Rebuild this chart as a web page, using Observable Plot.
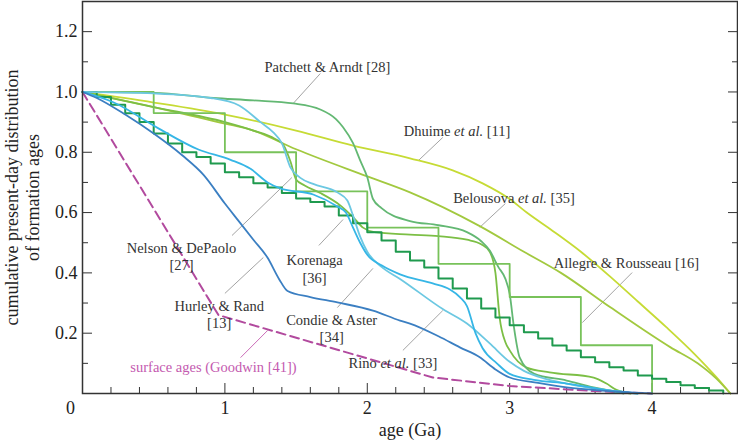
<!DOCTYPE html>
<html><head><meta charset="utf-8">
<script src="https://cdn.jsdelivr.net/npm/d3@7"></script>
<script src="https://cdn.jsdelivr.net/npm/@observablehq/plot@0.6"></script>
<style>body{margin:0;background:#fff}</style>
</head><body><div id="chart"></div>
<script>
// ---- data: [age (Ga), cumulative fraction] ----
const dhuime = [[0,1],[0.5,0.965],[1.0,0.925],[1.5,0.872],[1.9,0.822],[2.3,0.78],[2.6,0.74],[2.81,0.697],[3.0,0.645],[3.12,0.6],[3.3,0.54],[3.5,0.47],[3.7,0.39],[3.9,0.305],[4.1,0.22],[4.3,0.13],[4.45,0.055],[4.55,0]];
const belousova = [[0,1],[0.5,0.95],[1.0,0.895],[1.18,0.875],[1.5,0.81],[2.0,0.72],[2.3,0.667],[2.79,0.555],[3.1,0.47],[3.36,0.40],[3.71,0.285],[4.13,0.153],[4.32,0.10],[4.45,0.05],[4.55,0]];
const patchett = [[0,1],[0.5,0.997],[0.92,0.98],[1.2,0.972],[1.48,0.962],[1.67,0.942],[1.78,0.91],[1.83,0.883],[1.9,0.83],[1.95,0.773],[2.0,0.717],[2.04,0.645],[2.1,0.615],[2.3,0.572],[2.5,0.558],[2.7,0.535],[2.8,0.505],[2.86,0.474],[2.92,0.42],[2.97,0.38],[3.0,0.33],[3.03,0.22],[3.07,0.12],[3.17,0.066],[3.4,0.043],[3.59,0.02],[3.7,0.01],[3.8,0]];
const greenB = [[0,1],[0.5,0.95],[1.0,0.9],[1.2,0.872],[1.35,0.845],[1.41,0.825],[1.46,0.77],[1.5,0.71],[1.56,0.69],[1.67,0.665],[1.81,0.624],[1.9,0.585],[1.97,0.55],[2.05,0.535],[2.3,0.527],[2.5,0.522],[2.7,0.51],[2.8,0.495],[2.86,0.47],[2.9,0.4],[2.93,0.25],[2.97,0.17],[3.0,0.143],[3.12,0.086],[3.28,0.07],[3.59,0.053],[3.68,0.033],[3.75,0.012],[3.85,0]];
const allegre = [[0,1],[0.5,0.93],[1.0,0.8],[1.5,0.67],[2.0,0.55],[2.5,0.43],[3.0,0.32],[3.5,0.16],[4.0,0]];
const stairAges = [0,0.1,0.2,0.3,0.4,0.5,0.6,0.7,0.8,0.9,1.0,1.1,1.2,1.3,1.4,1.5,1.6,1.7,1.8,1.9,2.0,2.1,2.2,2.3,2.4,2.5,2.6,2.7,2.8,2.9,3.0,3.1,3.2,3.3,3.4,3.5,3.6,3.7,3.8,3.9,4.0,4.1,4.2,4.3,4.4,4.5];
const stairVals = [1.0,0.983,0.958,0.929,0.90,0.862,0.829,0.80,0.784,0.763,0.734,0.717,0.697,0.683,0.665,0.647,0.635,0.62,0.59,0.565,0.535,0.507,0.47,0.441,0.418,0.381,0.348,0.315,0.282,0.252,0.226,0.203,0.182,0.159,0.143,0.12,0.104,0.087,0.076,0.06,0.049,0.038,0.027,0.018,0.01,0];
const cyanLight = [[0,1],[0.5,0.995],[0.9,0.98],[1.1,0.955],[1.25,0.9],[1.34,0.866],[1.4,0.83],[1.46,0.75],[1.53,0.715],[1.62,0.695],[1.79,0.667],[1.86,0.64],[1.9,0.59],[1.95,0.52],[2.0,0.47],[2.1,0.42],[2.23,0.38],[2.53,0.28],[2.7,0.232],[2.86,0.166],[3.0,0.105],[3.1,0.075],[3.24,0.05],[3.4,0.033],[3.7,0.01],[3.9,0]];
const cyanBright = [[0,1],[0.22,0.965],[0.53,0.88],[0.81,0.81],[1.04,0.775],[1.18,0.745],[1.3,0.7],[1.39,0.68],[1.62,0.66],[1.79,0.62],[1.85,0.6],[1.9,0.55],[1.95,0.5],[2.0,0.46],[2.1,0.425],[2.23,0.395],[2.46,0.365],[2.58,0.345],[2.65,0.32],[2.7,0.29],[2.76,0.2],[2.81,0.15],[2.91,0.1],[3.0,0.065],[3.17,0.045],[3.4,0.033],[3.7,0.01],[3.9,0]];
const blue = [[0,1],[0.1,0.98],[0.3,0.925],[0.5,0.862],[0.7,0.79],[0.85,0.725],[1.0,0.63],[1.1,0.57],[1.2,0.51],[1.3,0.45],[1.38,0.38],[1.44,0.34],[1.6,0.32],[1.79,0.302],[2.04,0.275],[2.23,0.242],[2.3,0.232],[2.5,0.19],[2.65,0.153],[2.79,0.12],[2.9,0.08],[3.0,0.053],[3.2,0.035],[3.4,0.02],[3.7,0.008],[4.0,0]];
const surface = [[0,1],[0.955,0.26],[2.46,0.053],[3.0,0.025],[3.6,0.008],[4.0,0]];

// ---- annotations ----
const labels = [
  {t:"Patchett & Arndt [28]", x:1.72, y:1.085},
  {t:"Dhuime et al. [11]", x:2.63, y:0.872},
  {t:"Belousova et al. [35]", x:3.03, y:0.65},
  {t:"Allegre & Rousseau [16]", x:3.82, y:0.434},
  {t:"Nelson & DePaolo\n[27]", x:0.695, y:0.456},
  {t:"Korenaga\n[36]", x:1.63, y:0.415},
  {t:"Hurley & Rand\n[13]", x:0.96, y:0.264},
  {t:"Condie & Aster\n[34]", x:1.75, y:0.217},
  {t:"Rino et al. [33]", x:2.18, y:0.103}
];
const surfaceLabel = [{t:"surface ages (Goodwin [41])", x:0.92, y:0.086}];
const pointers = [
  [1.67,1.061,1.48,0.962],[2.53,0.849,2.36,0.773],[2.97,0.63,2.79,0.551],[3.86,0.401,3.51,0.235],
  [1.05,0.524,1.47,0.716],[1.66,0.491,1.83,0.577],[1.0,0.332,1.27,0.451],[1.79,0.285,2.04,0.415],[2.25,0.143,2.53,0.275]
];
const surfacePointer = [[1.11,0.119,1.30,0.209]];

const yMajor = [0.2,0.4,0.6,0.8,1.0,1.2];
const yMinor = [0.1,0.3,0.5,0.7,0.9,1.1];
const xMajor = [1,2,3,4];
const xMinor = [0.2,0.4,0.6,0.8,1.2,1.4,1.6,1.8,2.2,2.4,2.6,2.8,3.2,3.4,3.6,3.8,4.2,4.4];

const toRows = a => a.map(([x,y]) => ({x,y}));
const stairRows = stairAges.map((x,i) => ({x, y: stairVals[i]}));

const smooth = (d, stroke) => Plot.line(toRows(d), {x:"x", y:"y", stroke, strokeWidth:1.8, curve:"monotone-x"});
const axisCol = "#333";

const chart = Plot.plot({
  width: 738, height: 444,
  marginLeft: 82, marginRight: 1, marginTop: 1, marginBottom: 51,
  style: {fontFamily: "'Liberation Serif', 'DejaVu Serif', serif", background: "white", color: "#222"},
  x: {domain: [0, 4.6]},
  y: {domain: [0, 1.3]},
  marks: [
    // tick marks (inward)
    Plot.axisY({ticks: yMajor, tickSize: -10, tickFormat: () => "", stroke: axisCol, label: null}),
    Plot.axisY({ticks: yMinor, tickSize: -6, tickFormat: () => "", stroke: axisCol, label: null}),
    Plot.axisY({anchor: "right", ticks: yMajor, tickSize: -10, tickFormat: () => "", stroke: axisCol, label: null}),
    Plot.axisY({anchor: "right", ticks: yMinor, tickSize: -6, tickFormat: () => "", stroke: axisCol, label: null}),
    Plot.axisX({ticks: xMajor, tickSize: -10, tickFormat: () => "", stroke: axisCol, label: null}),
    Plot.axisX({ticks: xMinor, tickSize: -6, tickFormat: () => "", stroke: axisCol, label: null}),
    // tick labels
    Plot.axisY({ticks: yMajor, tickSize: 0, tickPadding: 5, tickFormat: ".1f", fontSize: 18, label: null}),
    Plot.axisX({ticks: xMajor, tickSize: 0, tickPadding: 8, tickFormat: d => String(d), fontSize: 18, label: null}),
    Plot.text([0], {x: 0, y: 0, text: () => "0", dx: -12, dy: 8, lineAnchor: "top", fontSize: 18}),
    // axis titles
    Plot.text(["age (Ga)"], {frameAnchor: "bottom", dy: 30, lineAnchor: "top", fontSize: 18}),
    Plot.text(["cumulative present-day distribution"], {frameAnchor: "left", textAnchor: "middle", rotate: -90, dx: -70, fontSize: 18}),
    Plot.text(["of formation ages"], {frameAnchor: "left", textAnchor: "middle", rotate: -90, dx: -49, fontSize: 18}),
    // pointers
    Plot.link(pointers, {x1: d=>d[0], y1: d=>d[1], x2: d=>d[2], y2: d=>d[3], stroke: "#999", strokeWidth: 0.9}),
    Plot.link(surfacePointer, {x1: d=>d[0], y1: d=>d[1], x2: d=>d[2], y2: d=>d[3], stroke: "#c45aaf", strokeWidth: 0.9}),
    // curves
    Plot.line(toRows(surface), {x:"x", y:"y", stroke:"#b24a9e", strokeWidth:2, strokeDasharray:"9,5"}),
    smooth(dhuime, "#c6db35"),
    smooth(belousova, "#a2c93f"),
    smooth(greenB, "#7cbf45"),
    smooth(patchett, "#63b873"),
    Plot.line(toRows(allegre), {x:"x", y:"y", stroke:"#78c25a", strokeWidth:1.8, curve:"step-after"}),
    Plot.line(stairRows, {x:"x", y:"y", stroke:"#1f9a4e", strokeWidth:2, curve:"step-after"}),
    smooth(cyanLight, "#6cc8e2"),
    smooth(cyanBright, "#36b6e6"),
    smooth(blue, "#3b7fc2"),
    // labels
    Plot.text(labels, {x:"x", y:"y", text:"t", fontSize: 14.5, fill: "#333", lineHeight: 1.2}),
    Plot.text(surfaceLabel, {x:"x", y:"y", text:"t", fontSize: 14.5, fill: "#c45aaf"}),
    Plot.frame({stroke: axisCol, strokeWidth: 1.5})
  ]
});
document.getElementById("chart").appendChild(chart);
chart.querySelectorAll("text").forEach(t => {
  if (t.children.length === 0 && t.textContent.includes("et al.")) {
    t.innerHTML = t.textContent.replace("et al.", '<tspan font-style="italic">et al.</tspan>');
  }
});
</script></body></html>
